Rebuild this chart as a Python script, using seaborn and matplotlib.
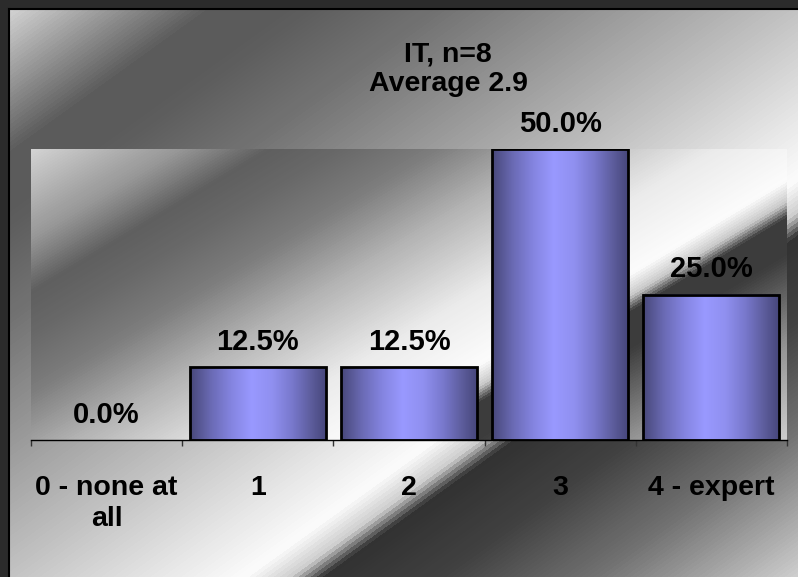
import numpy as np
import pandas as pd
import seaborn as sns
import matplotlib
matplotlib.use('Agg')
import matplotlib.pyplot as plt
from matplotlib.colors import LinearSegmentedColormap
from matplotlib.lines import Line2D

# data
categories = ['0 - none at\nall', '1', '2', '3', '4 - expert']
shares = [0.0, 12.5, 12.5, 50.0, 25.0]
title = 'IT, n=8\nAverage 2.9'

plt.rcParams['font.family'] = ['Liberation Sans', 'DejaVu Sans']

W, H = 798, 577
fig = plt.figure(figsize=(W / 100, H / 100), dpi=100)
fig.patch.set_facecolor('#2b2b2b')


def grey_cmap(stops):
    return LinearSegmentedColormap.from_list(
        'g', [(p / 2.0, (v / 255.0,) * 3) for p, v in stops])


# metallic fills (chart area and plot area)
chart_cmap = grey_cmap([(0, 210), (0.25, 92), (0.36, 92), (0.55, 115), (1.0, 195),
                        (1.3, 252), (1.36, 205), (1.40, 50), (1.55, 65),
                        (1.75, 115), (2.0, 205)])
plot_cmap = grey_cmap([(0, 210), (0.24, 150), (0.38, 95), (0.5, 105), (0.65, 125),
                       (0.85, 180), (1.1, 235), (1.3, 252), (1.36, 200),
                       (1.40, 60), (1.5, 60), (1.75, 150), (2.0, 205)])
bar_cmap = LinearSegmentedColormap.from_list('bar', [
    (0.0, '#48487a'), (0.15, '#6a6ab4'), (0.3, '#8484e0'), (0.45, '#9999ff'),
    (0.6, '#9090f0'), (0.75, '#7878cc'), (0.9, '#5a5a98'), (1.0, '#46467a')])

bg = fig.add_axes([9 / W, 0, (W - 9) / W, (H - 9) / H])
bg.axis('off')
u = np.linspace(0, 1, W - 9)
v = np.linspace(0, 1, H - 9)
bg.imshow(u[None, :] + v[:, None], cmap=chart_cmap, vmin=0, vmax=2,
          aspect='auto', extent=[0, 1, 0, 1], origin='upper')
fig.add_artist(Line2D([8.5 / W, 8.5 / W], [0, (H - 8.5) / H], color='black', lw=1.5))
fig.add_artist(Line2D([8.5 / W, 1], [(H - 8.5) / H] * 2, color='black', lw=1.5))

ax = fig.add_axes([31 / W, (H - 440) / H, 756 / W, 291 / H])
dx = np.arange(756)
dy = np.arange(291)
ax.imshow(2 * (0.6 * dx[None, :] + dy[:, None]) / 745.0, cmap=plot_cmap,
          vmin=0, vmax=2, aspect='auto', extent=[0, 1, 0, 1], origin='upper',
          transform=ax.transAxes, zorder=0)

df = pd.DataFrame({'level': categories, 'share': shares})
sns.barplot(data=df, x='level', y='share', ax=ax, color='#9999ff', width=0.9,
            edgecolor='black', linewidth=2, zorder=3)

grad = np.linspace(0, 1, 200)[None, :]
for p, val in zip(ax.patches, shares):
    x0, w, h = p.get_x(), p.get_width(), p.get_height()
    if h > 0:
        ax.imshow(grad, cmap=bar_cmap, extent=[x0, x0 + w, 0, h],
                  aspect='auto', zorder=2.5)
    else:
        p.set_linewidth(0)
    p.set_facecolor('none')
    ax.annotate(f'{val:.1f}%', (x0 + w / 2, h), xytext=(0, 12.3),
                textcoords='offset points', ha='center', va='baseline',
                fontsize=21, fontweight='bold', color='black')

ax.set_xlim(-0.5, 4.5)
ax.set_ylim(0, 50)
ax.set_yticks([])
ax.set_xlabel('')
ax.set_ylabel('')
for s in ['top', 'right', 'left']:
    ax.spines[s].set_visible(False)
ax.spines['bottom'].set_color('black')
ax.spines['bottom'].set_linewidth(1)
ax.set_xticks(np.arange(-0.5, 5, 1), minor=True)
ax.tick_params(axis='x', which='minor', length=4.5, width=1, color='#333333')
ax.tick_params(axis='x', which='major', length=0, pad=25, labelsize=20.5)
for t in ax.get_xticklabels():
    t.set_fontweight('bold')
    t.set_linespacing(1.26)

fig.text(448 / W, 1 - 42 / H, title, ha='center', va='top', fontsize=20.5,
         fontweight='bold', linespacing=1.15)

fig.savefig('out.png', dpi=100, facecolor=fig.get_facecolor())
